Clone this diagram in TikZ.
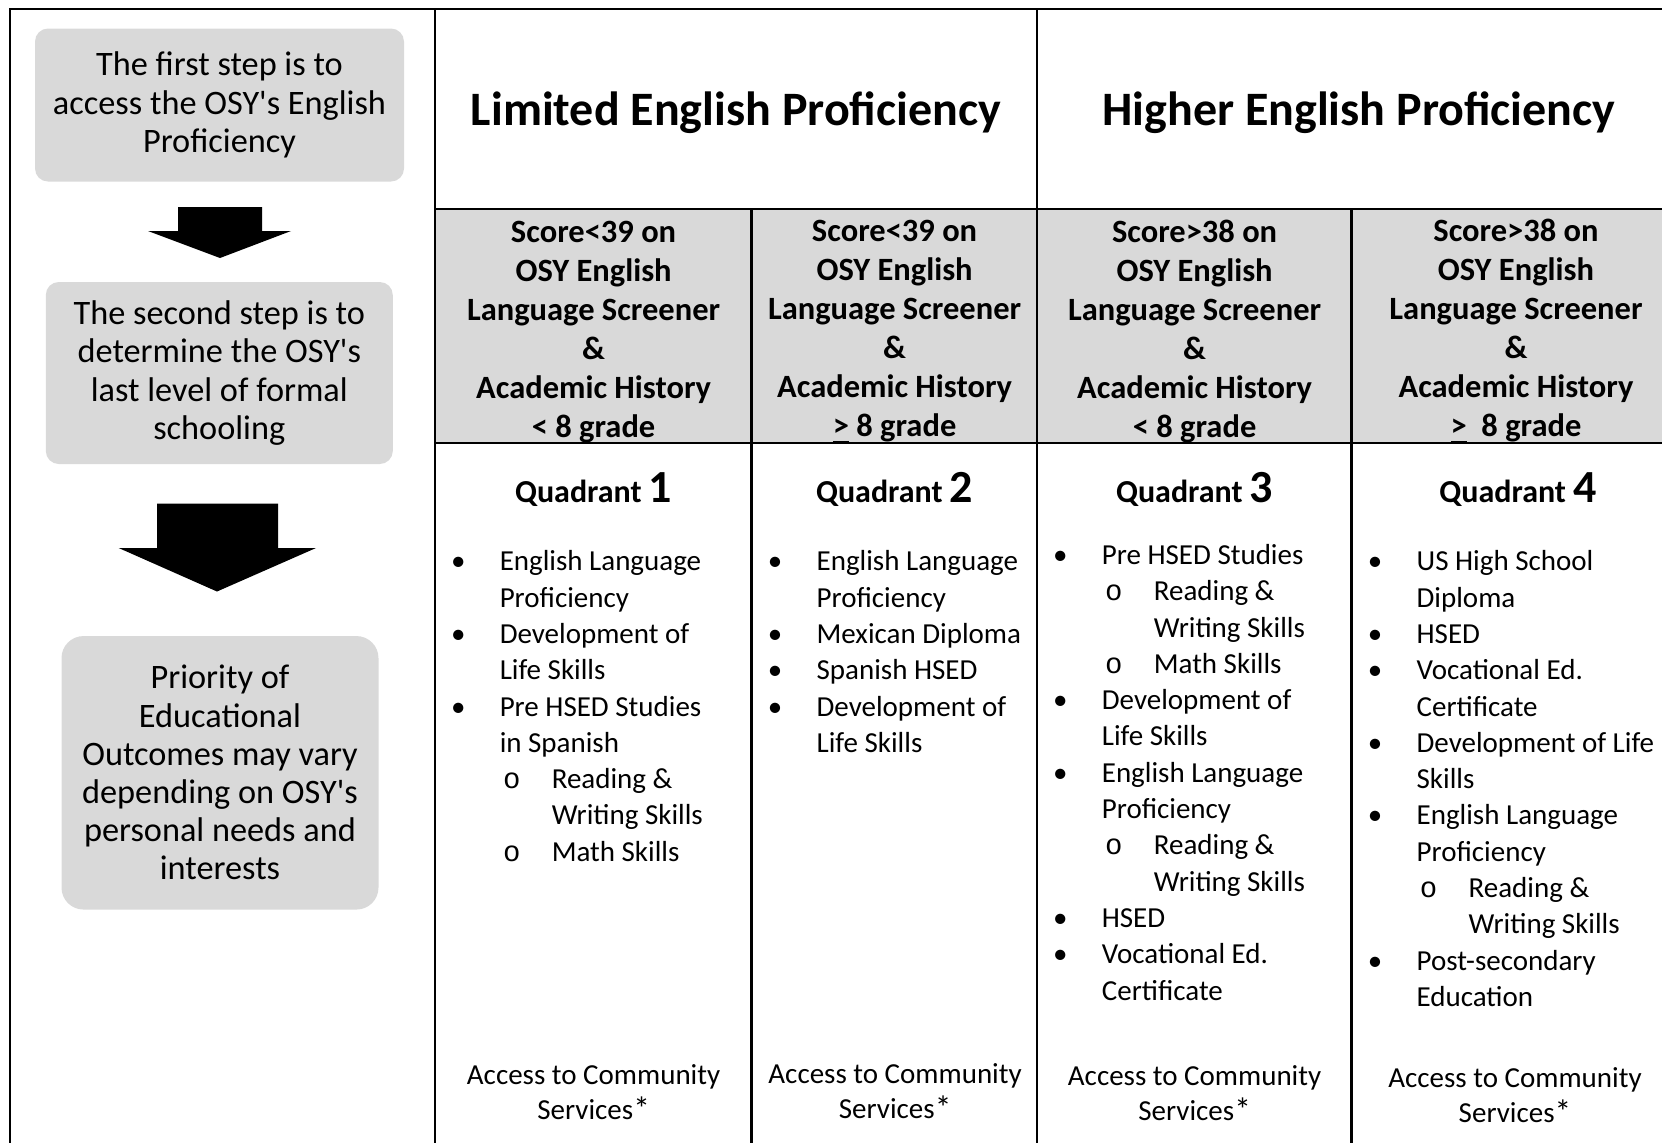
\documentclass[tikz,border=0pt]{standalone}
\usepackage{fontspec}
\setmainfont{Carlito}
\newfontfamily\monofnt{Liberation Mono}
\definecolor{cellgray}{RGB}{217,217,217}
\newcommand{\fntStep}{\fontsize{0.343cm}{0.382cm}\selectfont}
\newcommand{\fntTitle}{\fontsize{0.48cm}{0.56cm}\selectfont\bfseries}
\newcommand{\fntCrit}{\fontsize{0.325cm}{0.39cm}\selectfont\bfseries}
\newcommand{\fntQuad}{\fontsize{0.32cm}{0.38cm}\selectfont\bfseries}
\newcommand{\fntNum}{\fontsize{0.46cm}{0.5cm}\selectfont\bfseries}
\newcommand{\fntList}{\fontsize{0.29cm}{0.363cm}\selectfont}
\newcommand{\fntAccess}{\fontsize{0.29cm}{0.35cm}\selectfont}
\newcommand{\bitem}{\makebox[0.21cm][c]{\textbullet}\hspace{0.31cm}}
\newcommand{\bcont}{\hspace*{0.52cm}}
\newcommand{\sitem}{\hspace*{0.54cm}\makebox[0.2cm][c]{\monofnt o}\hspace{0.30cm}}
\newcommand{\scont}{\hspace*{1.04cm}}
\newcommand{\apos}{\textquotesingle}
\newcommand{\starmark}{\raisebox{-0.04em}{\scalebox{1.15}{*}}}
\begin{document}
\begin{tikzpicture}[
        line width=0.023cm,
        font=\fntList
    ]
    \tikzset{
        stepbox/.style = {rectangle, rounded corners=0.13cm, fill=cellgray, align=center, font=\fntStep, inner sep=0pt},
        headtitle/.style = {anchor=base, font=\fntTitle, inner sep=0pt},
        critcell/.style = {align=center, font=\fntCrit, inner sep=0pt},
        quadlabel/.style = {anchor=base, font=\fntQuad, inner sep=0pt},
        itemlist/.style = {anchor=base west, align=left, font=\fntList, inner sep=0pt},
        accesstxt/.style = {align=center, font=\fntAccess, inner sep=0pt},
        blockarrow/.style = {fill=black},
    }
    \useasboundingbox (0,0) rectangle (16.62,-11.42);
    \clip (0,0) rectangle (16.62,-11.42);
    %
    \fill[cellgray] (4.35,-2.09) rectangle (16.8,-4.43);
    \draw (0.10,-11.5) -- (0.10,-0.09) -- (16.8,-0.09);
    \draw (4.35,-0.09) -- (4.35,-11.5);
    \draw (10.37,-0.09) -- (10.37,-11.5);
    \draw (7.515,-2.09) -- (7.515,-11.5);
    \draw (13.515,-2.09) -- (13.515,-11.5);
    \draw (4.35,-2.09) -- (16.8,-2.09);
    \draw (4.35,-4.43) -- (16.8,-4.43);
    %
    \node[stepbox, minimum width=3.69cm, minimum height=1.53cm] at (2.195,-1.05) (step1) {The first step is to\\access the OSY\apos s English\\Proficiency};
    \node[stepbox, minimum width=3.47cm, minimum height=1.82cm] at (2.193,-3.73) (step2) {The second step is to\\determine the OSY\apos s\\last level of formal\\schooling};
    \node[stepbox, rounded corners=0.22cm, minimum width=3.17cm, minimum height=2.735cm] at (2.20,-7.728) (step3) {Priority of\\Educational\\Outcomes may vary\\depending on OSY\apos s\\personal needs and\\interests};
    %
    \fill[blockarrow] (1.78,-2.07) -- (2.62,-2.07) -- (2.62,-2.31) -- (2.91,-2.31) -- (2.20,-2.58) -- (1.48,-2.31) -- (1.78,-2.31) -- cycle;
    \fill[blockarrow] (1.57,-5.035) -- (2.78,-5.035) -- (2.78,-5.48) -- (3.16,-5.48) -- (2.17,-5.915) -- (1.187,-5.48) -- (1.57,-5.48) -- cycle;
    %
    \node[headtitle] at (7.36,-1.256) (limited) {Limited English Proficiency};
    \node[headtitle] at (13.59,-1.256) (higher) {Higher English Proficiency};
    %
    \node[critcell] at (5.936,-3.317) (crit1) {Score<39 on\\OSY English\\Language Screener\\\&\\Academic History\\< 8 grade};
    \node[critcell] at (8.946,-3.317) (crit2) {Score<39 on\\OSY English\\Language Screener\\\&\\Academic History\\\underline{>} 8 grade};
    \node[critcell] at (11.946,-3.317) (crit3) {Score>38 on\\OSY English\\Language Screener\\\&\\Academic History\\< 8 grade};
    \node[critcell] at (15.16,-3.317) (crit4) {Score>38 on\\OSY English\\Language Screener\\\&\\Academic History\\\underline{>}~~8 grade};
    %
    \node[quadlabel] at (5.936,-5.02) (quad1) {Quadrant {\fntNum 1}};
    \node[quadlabel] at (8.946,-5.02) (quad2) {Quadrant {\fntNum 2}};
    \node[quadlabel] at (11.946,-5.02) (quad3) {Quadrant {\fntNum 3}};
    \node[quadlabel] at (15.18,-5.02) (quad4) {Quadrant {\fntNum 4}};
    %
    % lists are placed by the baseline of their last line
    \node[itemlist] at (4.466,-8.612) (list1) {\bitem English Language\\ \bcont Proficiency\\ \bitem Development of\\ \bcont Life Skills\\ \bitem Pre HSED Studies\\ \bcont in Spanish\\ \sitem Reading \&\\ \scont Writing Skills\\ \sitem Math Skills};
    \node[itemlist] at (7.635,-7.523) (list2) {\bitem English Language\\ \bcont Proficiency\\ \bitem Mexican Diploma\\ \bitem Spanish HSED\\ \bitem Development of\\ \bcont Life Skills};
    \node[itemlist] at (10.487,-10.0) (list3) {\bitem Pre HSED Studies\\ \sitem Reading \&\\ \scont Writing Skills\\ \sitem Math Skills\\ \bitem Development of\\ \bcont Life Skills\\ \bitem English Language\\ \bcont Proficiency\\ \sitem Reading \&\\ \scont Writing Skills\\ \bitem HSED\\ \bitem Vocational Ed.\\ \bcont Certificate};
    \node[itemlist] at (13.635,-10.064) (list4) {\bitem US High School\\ \bcont Diploma\\ \bitem HSED\\ \bitem Vocational Ed.\\ \bcont Certificate\\ \bitem Development of Life\\ \bcont Skills\\ \bitem English Language\\ \bcont Proficiency\\ \sitem Reading \&\\ \scont Writing Skills\\ \bitem Post-secondary\\ \bcont Education};
    %
    \node[accesstxt] at (5.936,-10.923) (access1) {Access to Community\\Services\starmark};
    \node[accesstxt] at (8.951,-10.913) (access2) {Access to Community\\Services\starmark};
    \node[accesstxt] at (11.946,-10.935) (access3) {Access to Community\\Services\starmark};
    \node[accesstxt] at (15.15,-10.955) (access4) {Access to Community\\Services\starmark};
\end{tikzpicture}
\end{document}
